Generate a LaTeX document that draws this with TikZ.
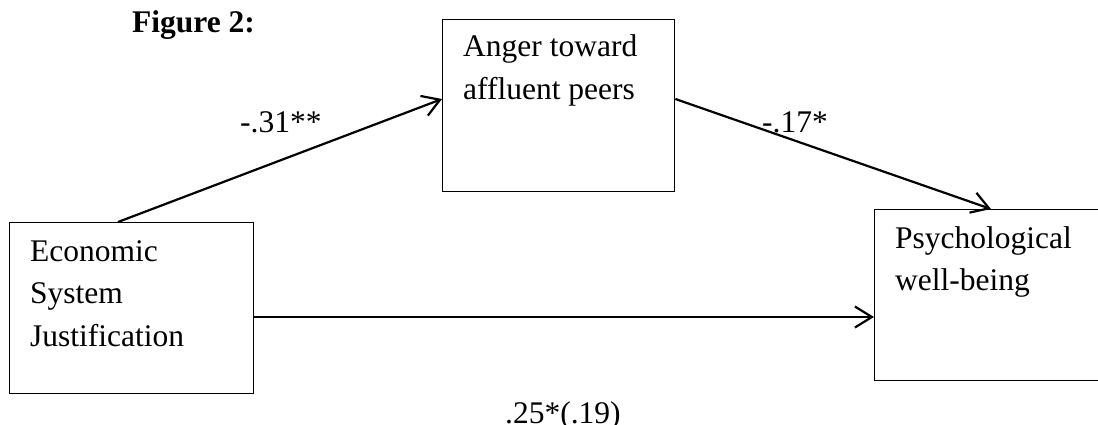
\documentclass[tikz,border=0pt]{standalone}
\usepackage{fontspec}
\setmainfont{Liberation Serif}
\usetikzlibrary{arrows.meta,calc}
\begin{document}
\begin{tikzpicture}[x=1pt,y=-1pt,
  box/.style={draw, line width=1.4pt, inner sep=0pt, anchor=north west},
  txt/.style={align=left, inner sep=0pt, anchor=base west, font=\fontsize{31.5}{42.5}\selectfont},
  lbl/.style={inner sep=0pt, anchor=base west, font=\fontsize{31.5}{42.5}\selectfont},
  arr/.style={-{Straight Barb[length=17pt,width=21pt]}, line width=2.2pt}]
\useasboundingbox (0,0) rectangle (1098,425);
\clip (0,0) rectangle (1098,425);
\node[box, minimum width=244pt, minimum height=171pt] (esj) at (9,222) {};
\node[box, minimum width=232pt, minimum height=172pt] (anger) at (442,19) {};
\node[box, minimum width=240pt, minimum height=171pt] (psych) at (874,209) {};
\node[txt] (esjT) at ($(esj.north west)+(21,124)$) {Economic\\System\\Justification};
\node[txt] (angerT) at ($(anger.north west)+(21,80.5)$) {Anger toward\\affluent peers};
\node[txt] (psychT) at ($(psych.north west)+(21,81.5)$) {Psychological\\well-being};
\node[lbl, font=\fontsize{31.5}{42.5}\selectfont\bfseries] (title) at (132,33) {Figure 2:};
\coordinate (a1) at ($(esj.north west)+(109,0)$);
\coordinate (a2) at ($(anger.north west)+(0,80)$);
\coordinate (b1) at ($(anger.north east)+(0,80)$);
\coordinate (b2) at ($(psych.north west)+(117,0)$);
\coordinate (c1) at ($(esj.north east)+(0,95)$);
\coordinate (c2) at ($(psych.north west)+(0,108)$);
\draw[arr] (a1) -- (a2);
\draw[arr] (b1) -- (b2);
\draw[arr] (c1) -- (c2);
\node[lbl] (l1) at (240,133) {-.31**};
\node[lbl] (l2) at (762,133) {-.17*};
\node[lbl] (l3) at (505,423) {.25*(.19)};
\end{tikzpicture}
\end{document}
